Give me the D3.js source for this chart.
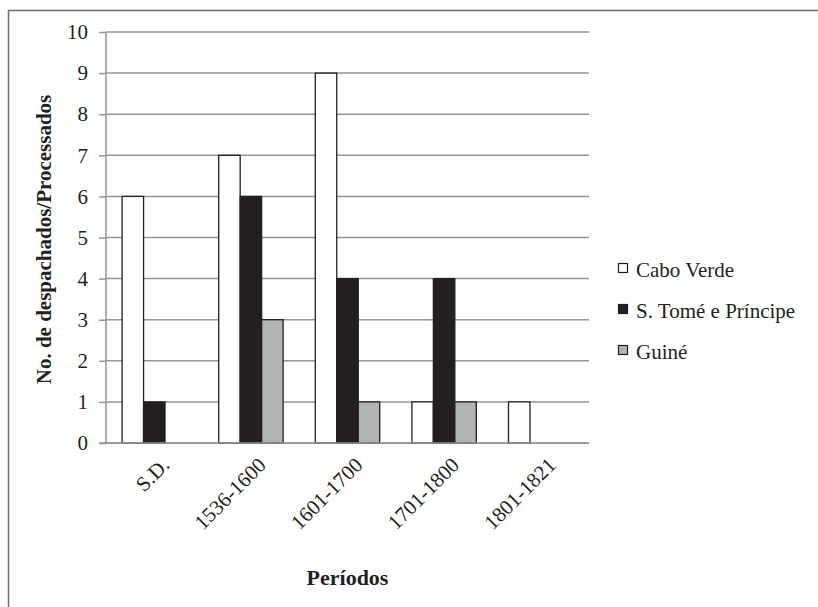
<!DOCTYPE html>
<html>
<head>
<meta charset="utf-8">
<script src="https://cdn.jsdelivr.net/npm/d3@7"></script>
<style>
  html, body { margin: 0; padding: 0; background: #fff; }
</style>
</head>
<body>
<svg id="chart" width="818" height="607"></svg>
<script>
// Periods and counts per territory
const periods = ["S.D.", "1536-1600", "1601-1700", "1701-1800", "1801-1821"];
const caboVerde = [6, 7, 9, 1, 1];
const saoTome = [1, 6, 4, 4, 0];
const guine = [0, 3, 1, 1, 0];
const seriesNames = ["Cabo Verde", "S. Tomé e Príncipe", "Guiné"];
const seriesFills = ["#ffffff", "#231f20", "#b3b4b6"];
const yTicks = [0, 1, 2, 3, 4, 5, 6, 7, 8, 9, 10];

const seriesValues = [caboVerde, saoTome, guine];
const INK = "#231f20";
const GRID = "#939598";
const SERIF = "'Times New Roman'";

const svg = d3.select("#chart");

// Outer frame (only its top and left edges fall inside the page)
svg.append("rect")
  .attr("x", 8.5).attr("y", 10.5)
  .attr("width", 840).attr("height", 640)
  .attr("fill", "none").attr("stroke", "#6d6e71").attr("stroke-width", 1.5);

const plot = { left: 106, right: 589, top: 32, bottom: 443 };

const x = d3.scaleBand()
  .domain(periods)
  .range([plot.left, plot.right]);

const inner = d3.scaleBand()
  .domain(d3.range(seriesNames.length))
  .range([0, x.bandwidth()])
  .paddingInner(0)
  .paddingOuter(0.75);

const y = d3.scaleLinear().domain([0, 10]).range([plot.bottom, plot.top]);

// Horizontal gridlines
svg.append("g")
  .selectAll("line")
  .data(yTicks)
  .join("line")
  .attr("x1", plot.left).attr("x2", plot.right)
  .attr("y1", d => y(d)).attr("y2", d => y(d))
  .attr("stroke", GRID).attr("stroke-width", 1.5);

// Bars
const groups = svg.append("g")
  .selectAll("g")
  .data(periods)
  .join("g")
  .attr("transform", d => `translate(${x(d)},0)`);

groups.selectAll("rect")
  .data((p, i) => seriesValues.map((vals, s) => ({ s, v: vals[i] })).filter(d => d.v > 0))
  .join("rect")
  .attr("x", d => inner(d.s))
  .attr("y", d => y(d.v))
  .attr("width", inner.bandwidth())
  .attr("height", d => y(0) - y(d.v))
  .attr("fill", d => seriesFills[d.s])
  .attr("stroke", INK)
  .attr("stroke-width", 1.3);

// Y axis
const yAxis = svg.append("g")
  .attr("transform", `translate(${plot.left},0)`)
  .call(d3.axisLeft(y).tickValues(yTicks).tickSize(7).tickPadding(11).tickFormat(d3.format("d")));
yAxis.attr("font-family", null).attr("font-size", null);
yAxis.select(".domain").attr("stroke", GRID).attr("stroke-width", 1.5)
  .attr("d", `M0,${plot.top}V${plot.bottom}`);
yAxis.selectAll(".tick line").attr("stroke", GRID).attr("stroke-width", 1.5);
yAxis.selectAll(".tick text")
  .style("font-family", SERIF)
  .style("font-size", "21px")
  .attr("fill", INK);

// X axis line and rotated category labels
svg.append("line")
  .attr("x1", plot.left - 7).attr("x2", plot.right)
  .attr("y1", plot.bottom).attr("y2", plot.bottom)
  .attr("stroke", GRID).attr("stroke-width", 1.5);

svg.append("g")
  .selectAll("text")
  .data(periods)
  .join("text")
  .attr("transform", d => `translate(${x(d) + x.bandwidth() / 2 + 6},${plot.bottom + 13}) rotate(-45)`)
  .attr("text-anchor", "end")
  .attr("dy", "0.7em")
  .style("font-family", SERIF)
  .style("font-size", "21px")
  .attr("fill", INK)
  .text(d => d);

// Axis titles
svg.append("text")
  .attr("transform", `translate(51,${(plot.top + plot.bottom) / 2 + 2}) rotate(-90)`)
  .attr("text-anchor", "middle")
  .style("font-family", SERIF)
  .style("font-size", "21px")
  .style("font-weight", "bold")
  .attr("fill", INK)
  .text("No. de despachados/Processados");

svg.append("text")
  .attr("x", (plot.left + plot.right) / 2)
  .attr("y", 585)
  .attr("text-anchor", "middle")
  .style("font-family", SERIF)
  .style("font-size", "22px")
  .style("font-weight", "bold")
  .attr("fill", INK)
  .text("Períodos");

// Legend
const legend = svg.append("g")
  .selectAll("g")
  .data(seriesNames)
  .join("g")
  .attr("transform", (d, i) => `translate(618,${270 + i * 41})`);

legend.append("rect")
  .attr("x", 0.5).attr("y", -6.5)
  .attr("width", 9).attr("height", 9)
  .attr("fill", (d, i) => seriesFills[i])
  .attr("stroke", INK).attr("stroke-width", 1.2);

legend.append("text")
  .attr("x", 18).attr("y", 0)
  .attr("dy", "0.32em")
  .style("font-family", SERIF)
  .style("font-size", "21px")
  .attr("fill", INK)
  .text(d => d);
</script>
</body>
</html>
